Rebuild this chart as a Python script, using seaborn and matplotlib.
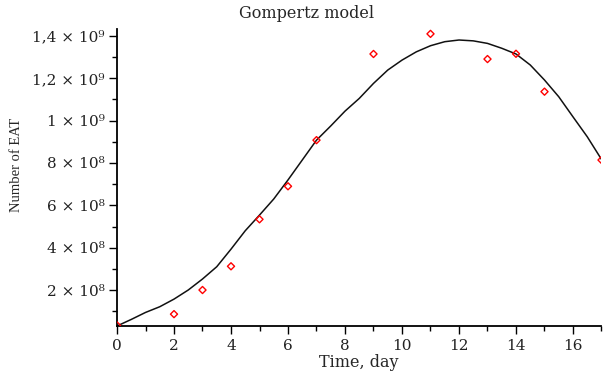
import matplotlib
matplotlib.use("Agg")
import matplotlib.pyplot as plt
import seaborn as sns
import pandas as pd
from matplotlib.ticker import FixedLocator, MultipleLocator

# Observed data
obs_day = [0, 2, 3, 4, 5, 6, 7, 9, 11, 13, 14, 15, 17]
obs_eat = [3.3e7, 8.6e7, 2.0e8, 3.12e8, 5.34e8, 6.9e8, 9.08e8,
           1.315e9, 1.41e9, 1.291e9, 1.316e9, 1.137e9, 8.14e8]

# Model curve
model_day = [0, 0.5, 1, 1.5, 2, 2.5, 3, 3.5, 4, 4.5, 5, 5.5, 6, 6.5, 7, 7.5, 8, 8.5,
             9, 9.5, 10, 10.5, 11, 11.5, 12, 12.5, 13, 13.5, 14, 14.5, 15, 15.5,
             16, 16.5, 17]
model_eat = [3.0e7, 6.1e7, 9.4e7, 1.21e8, 1.57e8, 2.0e8, 2.52e8, 3.1e8, 3.93e8,
             4.8e8, 5.54e8, 6.3e8, 7.2e8, 8.14e8, 9.08e8, 9.75e8, 1.045e9,
             1.105e9, 1.176e9, 1.239e9, 1.286e9, 1.325e9, 1.354e9, 1.373e9,
             1.381e9, 1.377e9, 1.365e9, 1.342e9, 1.315e9, 1.263e9, 1.192e9,
             1.113e9, 1.018e9, 9.24e8, 8.17e8]

y_ticks = [2e8, 4e8, 6e8, 8e8, 1e9, 1.2e9, 1.4e9]
y_tick_labels = ["2 × 10⁸", "4 × 10⁸", "6 × 10⁸", "8 × 10⁸", "1 × 10⁹", "1,2 × 10⁹", "1,4 × 10⁹"]
y_minor = [1e8, 3e8, 5e8, 7e8, 9e8, 1.1e9, 1.3e9]

sns.set_style("white")
plt.rcParams['font.family'] = ['DejaVu Serif', 'Liberation Serif']

fig = plt.figure(figsize=(6.04, 3.74), dpi=100)
ax = fig.add_axes([117/604, 1 - 326/374, (601.5 - 117)/604, (326 - 29)/374])

df_model = pd.DataFrame({"day": model_day, "eat": model_eat})
df_obs = pd.DataFrame({"day": obs_day, "eat": obs_eat})

sns.lineplot(data=df_model, x="day", y="eat", ax=ax, color="#111111", linewidth=1.1)
sns.scatterplot(data=df_obs, x="day", y="eat", ax=ax, marker="D", s=13,
                facecolor="none", edgecolor="red", linewidth=1.0, zorder=3)

ax.set_xlim(0, 17)
ax.set_ylim(3e7, 1.433e9)

ax.xaxis.set_major_locator(MultipleLocator(2))
ax.xaxis.set_minor_locator(MultipleLocator(1))
ax.yaxis.set_major_locator(FixedLocator(y_ticks))
ax.set_yticklabels(y_tick_labels)
ax.yaxis.set_minor_locator(FixedLocator(y_minor))

ax.tick_params(axis='both', which='major', direction='out', length=6, width=1.0,
               labelsize=11, color='black', labelcolor='#222222', bottom=True, left=True, pad=3)
ax.tick_params(axis='both', which='minor', direction='out', length=3.5, width=1.0,
               color='black', bottom=True, left=True)

for s in ['top', 'right']:
    ax.spines[s].set_visible(False)
for s in ['left', 'bottom']:
    ax.spines[s].set_color('black')
    ax.spines[s].set_linewidth(1.3)

ax.set_xlabel("Time, day", fontsize=11.5, labelpad=1)
ax.set_ylabel("Number of EAT", fontsize=10.5, family=['Liberation Serif', 'DejaVu Serif'])
ax.yaxis.set_label_coords((23 - 117) / 484.5, (326 - 165) / 297)
fig.text(307/604, 1 - 14/374, "Gompertz model", ha='center', va='center', fontsize=11.5)

fig.savefig("out.png", dpi=100)
